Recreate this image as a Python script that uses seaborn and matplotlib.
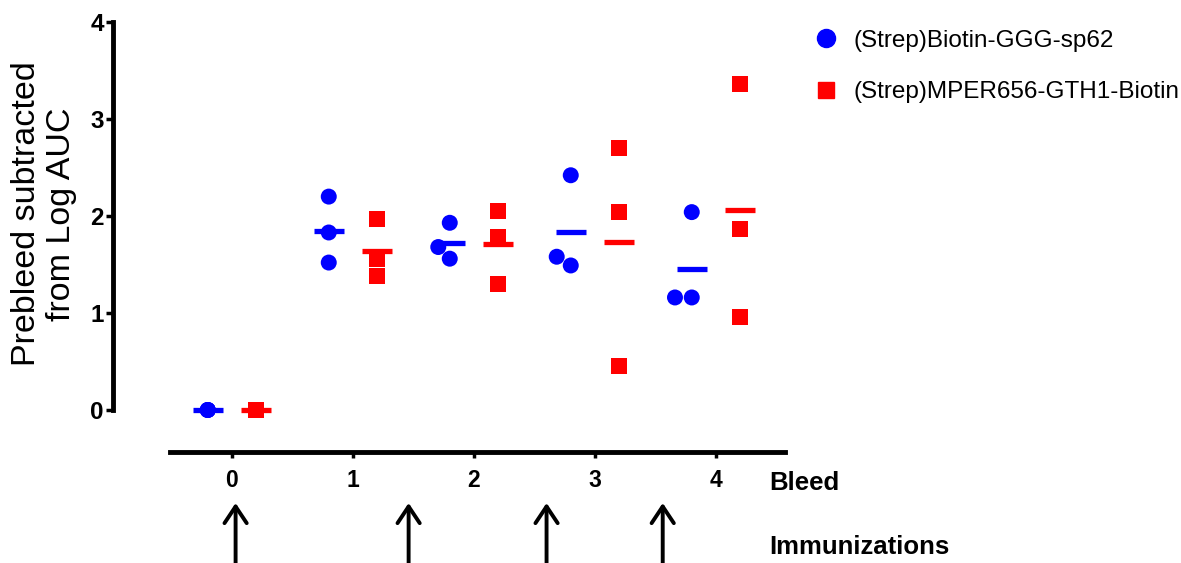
import seaborn as sns
import numpy as np
import pandas as pd
import matplotlib.pyplot as plt
from matplotlib.lines import Line2D

# values (three animals per bleed)
bleeds = [0, 1, 2, 3, 4]
groups = ['(Strep)Biotin-GGG-sp62', '(Strep)MPER656-GTH1-Biotin']
biotin_ggg_sp62 = [[0.0, 0.0, 0.0],
                   [2.20, 1.83, 1.52],
                   [1.93, 1.68, 1.56],
                   [2.42, 1.58, 1.49],
                   [2.04, 1.16, 1.16]]
mper656_gth1 = [[0.0, 0.0, 0.0],
                [1.97, 1.56, 1.38],
                [2.05, 1.78, 1.30],
                [2.70, 2.04, 0.45],
                [3.36, 1.87, 0.96]]
# immunization times, in bleed units
immunizations = [0.03, 1.46, 2.60, 3.56]
y_ticks = [0, 1, 2, 3, 4]

colors = {groups[0]: '#0000ff', groups[1]: '#ff0000'}
markers = {groups[0]: 'o', groups[1]: 's'}

rows = []
for g, vals in zip(groups, [biotin_ggg_sp62, mper656_gth1]):
    for b, reps in zip(bleeds, vals):
        for v in reps:
            rows.append([b, g, v])
df = pd.DataFrame(rows, columns=['Bleed', 'Group', 'Value'])

sns.set_style('ticks')
plt.rcParams['font.family'] = ['Liberation Sans', 'DejaVu Sans']
plt.rcParams['text.color'] = 'black'
plt.rcParams['xtick.color'] = 'black'
plt.rcParams['ytick.color'] = 'black'

fig = plt.figure(figsize=(11.81, 5.63), dpi=100)
ax = fig.add_axes([0.0957, 0.1972, 0.5720, 0.7637])

# points, one call per group so each gets its own marker
for g in groups:
    sub = df[df.Group == g]
    sns.swarmplot(data=sub[sub.Bleed > 0], x='Bleed', y='Value', hue='Group',
                  hue_order=groups, order=bleeds, palette=colors, dodge=True,
                  marker=markers[g], size=11.5, linewidth=0, legend=False, ax=ax)
    # prebleed values all sit on top of each other in the original
    sns.stripplot(data=sub[sub.Bleed == 0], x='Bleed', y='Value', hue='Group',
                  hue_order=groups, order=bleeds, palette=colors, dodge=True,
                  jitter=False, marker=markers[g], size=11.5, linewidth=0,
                  legend=False, ax=ax)

# mean bars
sns.pointplot(data=df, x='Bleed', y='Value', hue='Group', hue_order=groups,
              order=bleeds, palette=colors, dodge=0.4, errorbar=None,
              markers='_', linestyle='none', markersize=22,
              markeredgewidth=3.8, legend=False, ax=ax)

ax.set_xlim(-0.983, 4.6)
ax.set_ylim(-0.433, 4.0)
ax.set_yticks(y_ticks)
sns.despine(ax=ax)
ax.spines['left'].set_bounds(0, 4)
ax.spines['bottom'].set_bounds(-0.51, 4.57)
for s in ['left', 'bottom']:
    ax.spines[s].set_linewidth(3.5)
    ax.spines[s].set_color('black')
ax.tick_params(axis='y', length=5, width=2.5, pad=1.5, labelsize=17.5)
ax.tick_params(axis='x', length=4, width=2.5, pad=8, labelsize=16.5)
for lab in ax.get_xticklabels() + ax.get_yticklabels():
    lab.set_fontweight('bold')
ax.set_xlabel('')
ax.set_ylabel('')

fig.text(44 / 1181, 1 - 214 / 563, 'Prebleed subtracted\nfrom Log AUC',
         rotation=90, ha='center', va='center', fontsize=24.5, linespacing=1.2)

handles = [Line2D([], [], marker='o', color=colors[groups[0]], linestyle='none', markersize=13),
           Line2D([], [], marker='s', color=colors[groups[1]], linestyle='none', markersize=12)]
fig.legend(handles, groups, loc='upper left', bbox_to_anchor=(0.689, 0.947),
           bbox_transform=fig.transFigure, frameon=False, fontsize=17.5,
           borderpad=0, borderaxespad=0, handlelength=1.0, handletextpad=0.65,
           labelspacing=1.2)

fig.text(769 / 1181, 1 - 490 / 563, 'Bleed', fontsize=18.5, fontweight='bold', va='baseline')
fig.text(769 / 1181, 1 - 554 / 563, 'Immunizations', fontsize=18.5, fontweight='bold', va='baseline')

# immunization arrows below the axis
for xi in immunizations:
    ax.annotate('', xy=(xi, -0.1186), xytext=(xi, -0.32),
                xycoords=ax.get_xaxis_transform(), textcoords=ax.get_xaxis_transform(),
                arrowprops=dict(arrowstyle='->,head_length=0.6,head_width=0.4',
                                lw=2.8, color='black', mutation_scale=20,
                                shrinkA=0, shrinkB=0),
                annotation_clip=False)

fig.savefig('out.png', dpi=100)
